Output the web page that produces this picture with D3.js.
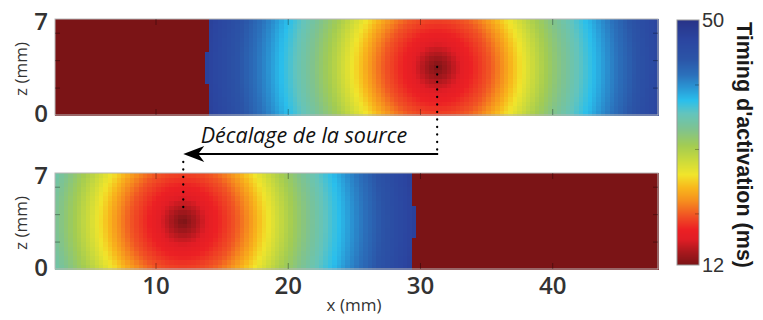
<!DOCTYPE html>
<html><head><meta charset="utf-8">
<script src="https://cdn.jsdelivr.net/npm/d3@7"></script>
<style>body{margin:0;background:#fff}svg{display:block}</style>
</head><body>
<script>
// ---- data ----
const xTicks = [10, 20, 30, 40];
const zTicks = [0, 2, 4, 6, 7];
const zTickLabels = ["0", "", "", "", "7"];
const colorbarTicks = [12, 20, 30, 40, 50];
const colorbarLabels = ["12", "", "", "", "50"];
const panels = ["top", "bottom"];
const sourceX = [31.3, 12.1];          // mm, pacing source position
const sourceZ = [3.5, 3.5];            // mm
// activation timing (ms) vs distance from the source (mm)
const profileDistance = [0, 1, 2, 3, 4, 5, 6, 7, 8, 9, 10, 11, 12, 13, 14, 15, 16, 17, 18, 19, 20];
const profileTiming   = [12, 14.3, 16.6, 18.2, 19.8, 22.2, 25.0, 27.6, 30.0, 32.1, 34.1, 36.1, 38.0, 40.2, 42.1, 44.0, 45.6, 47.0, 48.4, 49.4, 50];
// non-activated block (shown at 12 ms)
const blockSide = ["left", "right"];
const blockEdge = [13.95, 29.5];
const blockEdgeNotch = [13.65, 29.8];
const notchZ = [2.3, 4.6];
// colour map (value -> colour)
const cmapValues = [12, 14, 16, 17.5, 19.5, 22, 24, 26, 28, 30.5, 33, 35.5, 37.5, 39.5, 41.5, 44, 47, 50];
const cmapColors = ["#7b1416", "#a8181d", "#e11d25", "#ec2024", "#f04f24", "#f6901e", "#f8b81c", "#f1e52b",
                    "#cedb3a", "#a3cc52", "#80c38e", "#63c4bd", "#2abfec", "#2a96d4", "#2b70bb", "#2b54a7", "#2b45a0", "#283387"];

// ---- layout ----
const W = 763, H = 320;
const svg = d3.select("body").append("svg").attr("width", W).attr("height", H);
const x = d3.scaleLinear().domain([2.4, 48]).range([55, 658]);
const zScales = [d3.scaleLinear().domain([0, 7]).range([115, 19]),
                 d3.scaleLinear().domain([0, 7]).range([269, 173])];
const color = d3.scaleLinear().domain(cmapValues).range(cmapColors).clamp(true);
const timing = d3.scaleLinear().domain(profileDistance).range(profileTiming).clamp(true);

const nCols = 137, nRows = 21;
const dx = (48 - 2.4) / nCols, dz = 7 / nRows;
const cols = d3.range(nCols), rows = d3.range(nRows);

panels.forEach((p, k) => {
  const z = zScales[k];
  const cells = [];
  rows.forEach(j => cols.forEach(i => {
    const cx = 2.4 + (i + 0.5) * dx, cz = (j + 0.5) * dz;
    const edge = (cz > notchZ[0] && cz < notchZ[1]) ? blockEdgeNotch[k] : blockEdge[k];
    const blocked = blockSide[k] === "left" ? cx < edge : cx > edge;
    const d = Math.hypot(cx - sourceX[k], cz - sourceZ[k]);
    cells.push({x0: 2.4 + i * dx, z0: j * dz, v: blocked ? 12 : timing(d)});
  }));
  const g = svg.append("g");
  g.selectAll("rect").data(cells).join("rect")
    .attr("x", d => x(d.x0)).attr("y", d => z(d.z0 + dz))
    .attr("width", x(2.4 + dx) - x(2.4) + 0.6).attr("height", z(0) - z(dz) + 0.6)
    .attr("fill", d => color(d.v)).attr("shape-rendering", "crispEdges");
  // frame
  g.append("rect").attr("x", x(2.4)).attr("y", z(7)).attr("width", x(48) - x(2.4)).attr("height", z(0) - z(7))
    .attr("fill", "none").attr("stroke", "#b8b8b8").attr("stroke-width", 1);
  // inward ticks
  const tickStyle = sel => { sel.select(".domain").remove(); sel.selectAll("line").attr("stroke", "#000").attr("stroke-opacity", 0.35); };
  g.append("g").attr("transform", `translate(0,${z(7)})`)
    .call(d3.axisTop(x).tickValues(xTicks).tickSizeInner(-6).tickFormat("")).call(tickStyle);
  const bottom = g.append("g").attr("transform", `translate(0,${z(0)})`)
    .call(d3.axisBottom(x).tickValues(xTicks).tickSizeInner(-6).tickPadding(8)
      .tickFormat(k === 1 ? d3.format("d") : "")).call(tickStyle);
  bottom.selectAll("text").attr("font-family", "Open Sans").attr("font-weight", 600)
    .attr("font-size", 24).attr("fill", "#333");
  const left = g.append("g").attr("transform", `translate(${x(2.4)},0)`)
    .call(d3.axisLeft(z).tickValues(zTicks).tickSizeInner(-5).tickPadding(7)
      .tickFormat((d, i) => zTickLabels[i])).call(tickStyle);
  left.selectAll("text").attr("font-family", "Open Sans").attr("font-weight", 600)
    .attr("font-size", 24).attr("fill", "#333");
  left.selectAll(".tick").filter(d => d === 0 || d === 7).select("line").remove();
  left.selectAll(".tick").filter(d => d === 7).select("text").attr("dy", "0.42em");
  left.selectAll(".tick").filter(d => d === 0).select("text").attr("dy", "0.25em");
  g.append("g").attr("transform", `translate(${x(48)},0)`)
    .call(d3.axisRight(z).tickValues([2, 4, 6]).tickSizeInner(-5).tickFormat("")).call(tickStyle);
  // z label
  g.append("text").attr("transform", `translate(27,${(z(0) + z(7)) / 2 + 2}) rotate(-90)`)
    .attr("text-anchor", "middle").attr("font-family", "Open Sans").attr("font-size", 17)
    .attr("fill", "#333").text("z (mm)");
});

// x label
svg.append("text").attr("x", 354).attr("y", 311).attr("text-anchor", "middle")
  .attr("font-family", "Open Sans").attr("font-size", 17).attr("fill", "#333").text("x (mm)");

// ---- annotation: source shift ----
const arrowY = 154;
const xs0 = x(sourceX[0]), xs1 = x(sourceX[1]);
const dots = (xx, y0, y1) => svg.append("line").attr("x1", xx).attr("x2", xx).attr("y1", y0).attr("y2", y1)
  .attr("stroke", "#000").attr("stroke-width", 2.3).attr("stroke-linecap", "round").attr("stroke-dasharray", "0 7.5");
dots(xs0, zScales[0](sourceZ[0]), arrowY - 2);
dots(xs1, arrowY + 8, zScales[1](4.0));
svg.append("line").attr("x1", xs0 + 1).attr("x2", xs1 + 12).attr("y1", arrowY).attr("y2", arrowY)
  .attr("stroke", "#000").attr("stroke-width", 2);
svg.append("path")
  .attr("d", `M${xs1},${arrowY} L${xs1 + 21},${arrowY - 8} L${xs1 + 15},${arrowY} L${xs1 + 21},${arrowY + 8} Z`)
  .attr("fill", "#000");
svg.append("text").attr("x", 304).attr("y", 143).attr("text-anchor", "middle")
  .attr("font-family", "Open Sans").attr("font-style", "italic").attr("font-size", 21.5)
  .attr("fill", "#111").text("Décalage de la source");

// ---- colour bar ----
const cb = d3.scaleLinear().domain([12, 50]).range([265, 20]);
const cbX = 677, cbW = 22;
const cbSteps = d3.range(0, 245);
svg.append("g").selectAll("rect").data(cbSteps).join("rect")
  .attr("x", cbX).attr("width", cbW).attr("y", d => 20 + d).attr("height", 1.2)
  .attr("fill", d => color(cb.invert(20 + d + 0.5))).attr("shape-rendering", "crispEdges");
svg.append("rect").attr("x", cbX).attr("y", 20).attr("width", cbW).attr("height", 245)
  .attr("fill", "none").attr("stroke", "#999").attr("stroke-width", 1);
const cbAxis = svg.append("g").attr("transform", `translate(${cbX + cbW},0)`)
  .call(d3.axisRight(cb).tickValues(colorbarTicks).tickSizeInner(-4).tickPadding(3)
    .tickFormat((d, i) => colorbarLabels[i]));
cbAxis.select(".domain").remove();
cbAxis.selectAll("line").attr("stroke", "#000").attr("stroke-opacity", 0.3);
cbAxis.selectAll(".tick").filter(d => d === 12 || d === 50).select("line").remove();
cbAxis.selectAll("text").attr("font-family", "Liberation Sans").attr("font-size", 20).attr("fill", "#333");
svg.append("text").attr("transform", `translate(737,145) rotate(90)`).attr("text-anchor", "middle")
  .attr("font-family", "Liberation Sans").attr("font-weight", "bold").attr("font-size", 21.5)
  .attr("fill", "#1a1a1a").text("Timing d'activation (ms)");
</script>
</body></html>
